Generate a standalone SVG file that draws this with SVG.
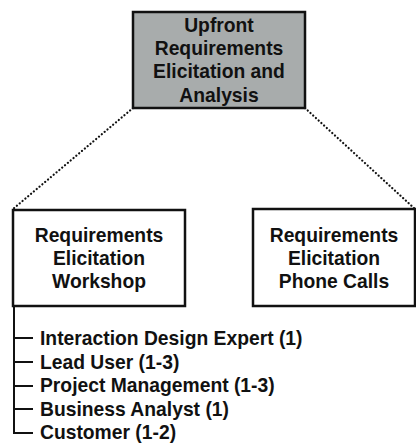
<svg xmlns="http://www.w3.org/2000/svg" width="416" height="443" viewBox="0 0 416 443">
<style>
.box{stroke:#111;stroke-width:2.5;}
.t{font-family:"Liberation Sans",Arial,sans-serif;font-weight:bold;font-size:19.3px;fill:#111;}
.c{text-anchor:middle;}
.dot{stroke:#111;stroke-width:2.2;stroke-linecap:round;stroke-dasharray:0.1 3.6;fill:none;}
.ln{stroke:#111;stroke-width:2;fill:none;}
</style>
<rect width="416" height="443" fill="#fff"/>
<g id="connectors">
<line class="dot" x1="133" y1="108" x2="13" y2="209"/>
<line class="dot" x1="305" y1="108" x2="415" y2="209"/>
<path class="ln" d="M14 306 V433 H33 M14 338 H33 M14 362 H33 M14 386 H33 M14 409 H33"/>
</g>
<g id="upfront">
<rect class="box" x="133" y="12" width="172" height="96" fill="#a8acac"/>
<text class="t c" x="219" y="32">Upfront</text>
<text class="t c" x="219" y="55">Requirements</text>
<text class="t c" x="219" y="78">Elicitation and</text>
<text class="t c" x="219" y="102">Analysis</text>
</g>
<g id="workshop">
<rect class="box" x="13" y="210" width="172" height="96" fill="#fff"/>
<text class="t c" x="99" y="242">Requirements</text>
<text class="t c" x="99" y="265">Elicitation</text>
<text class="t c" x="99" y="288">Workshop</text>
</g>
<g id="phone">
<rect class="box" x="253" y="209" width="162" height="97" fill="#fff"/>
<text class="t c" x="334" y="242">Requirements</text>
<text class="t c" x="334" y="265">Elicitation</text>
<text class="t c" x="334" y="288">Phone Calls</text>
</g>
<g id="participants">
<text class="t" x="40" y="345">Interaction Design Expert (1)</text>
<text class="t" x="40" y="369">Lead User (1-3)</text>
<text class="t" x="40" y="392">Project Management (1-3)</text>
<text class="t" x="40" y="416">Business Analyst (1)</text>
<text class="t" x="40" y="439">Customer (1-2)</text>
</g>
</svg>
